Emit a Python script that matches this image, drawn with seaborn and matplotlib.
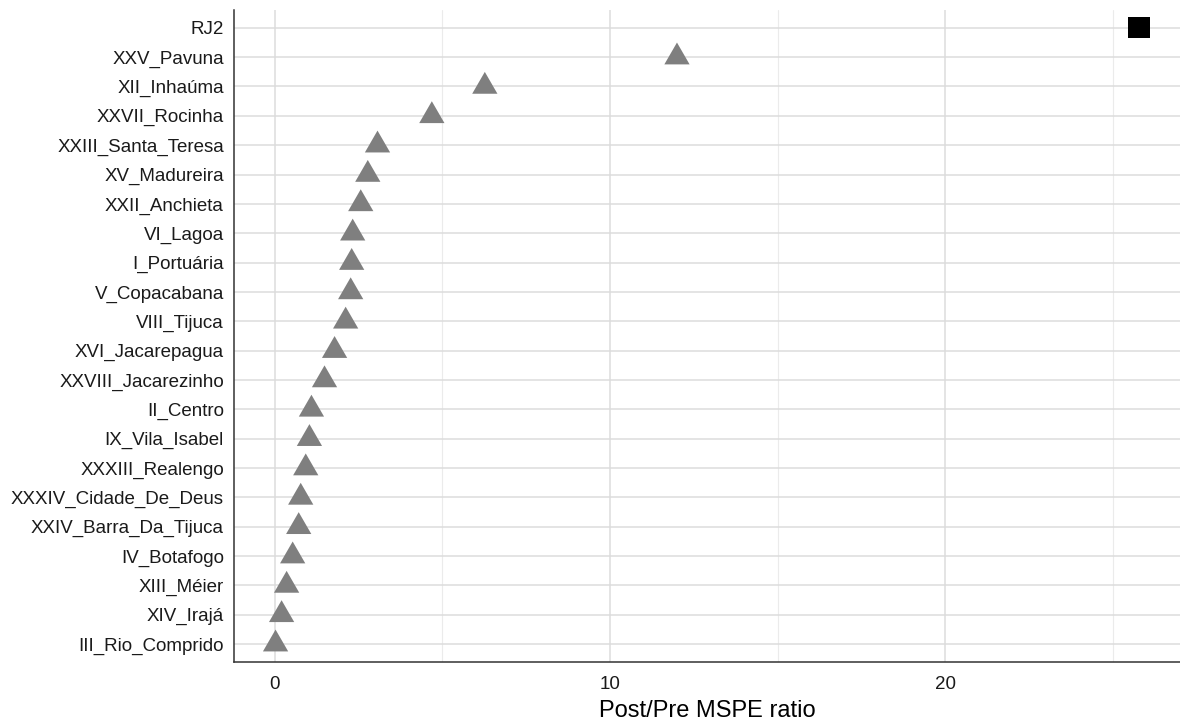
import matplotlib
matplotlib.use('Agg')
import matplotlib.pyplot as plt
import seaborn as sns
import pandas as pd
from matplotlib.path import Path
from matplotlib.ticker import MultipleLocator

# data, top row first
units = [
    "RJ2", "XXV_Pavuna", "XII_Inhaúma", "XXVII_Rocinha", "XXIII_Santa_Teresa",
    "XV_Madureira", "XXII_Anchieta", "VI_Lagoa", "I_Portuária", "V_Copacabana",
    "VIII_Tijuca", "XVI_Jacarepagua", "XXVIII_Jacarezinho", "II_Centro",
    "IX_Vila_Isabel", "XXXIII_Realengo", "XXXIV_Cidade_De_Deus",
    "XXIV_Barra_Da_Tijuca", "IV_Botafogo", "XIII_Méier", "XIV_Irajá",
    "III_Rio_Comprido",
]
ratio = [25.78, 12.0, 6.27, 4.69, 3.07, 2.78, 2.57, 2.33, 2.30, 2.27, 2.12,
         1.79, 1.49, 1.10, 1.04, 0.93, 0.78, 0.72, 0.54, 0.36, 0.21, 0.03]
group = ["treated"] + ["control"] * (len(units) - 1)

df = pd.DataFrame({"unit": units, "ratio": ratio, "group": group})

sns.set_style("white")
plt.rcParams['font.family'] = ['Liberation Sans', 'DejaVu Sans']

# ggplot-like triangle, centred on its centroid
tri = Path([(0, 0.577), (-0.5, -0.289), (0.5, -0.289), (0, 0.577)],
           [Path.MOVETO, Path.LINETO, Path.LINETO, Path.CLOSEPOLY])

fig = plt.figure(figsize=(11.8, 7.24), dpi=100)
ax = fig.add_axes([0.198, 0.086, 0.802, 0.9])

sns.scatterplot(data=df, x="ratio", y="unit", hue="group", style="group",
                size="group",
                palette={"treated": "black", "control": "#7f7f7f"},
                markers={"treated": "s", "control": tri},
                sizes={"treated": 235, "control": 440},
                linewidth=0, legend=False, ax=ax, zorder=3)

ax.set_xlim(-1.22, 27.0)
ax.set_ylim(len(units) - 0.4, -0.6)
ax.xaxis.set_major_locator(MultipleLocator(10))
ax.xaxis.set_minor_locator(MultipleLocator(5))
ax.grid(True, which='major', color='#dcdcdc', linewidth=1.1)
ax.grid(True, which='minor', axis='x', color='#ebebeb', linewidth=0.8)
ax.set_axisbelow(True)

for s in ['top', 'right']:
    ax.spines[s].set_visible(False)
for s in ['left', 'bottom']:
    ax.spines[s].set_color('#333333')
    ax.spines[s].set_linewidth(1.1)

ax.tick_params(axis='both', which='major', length=4, width=0.9,
               color='#333333', labelcolor='#1a1a1a', labelsize=13.5, pad=3)
ax.tick_params(axis='x', which='major', pad=6)
ax.tick_params(axis='x', which='minor', length=0)
ax.set_ylabel("")
ax.set_xlabel("Post/Pre MSPE ratio", fontsize=17, color='black', labelpad=5)

fig.savefig("out.png", dpi=100)
